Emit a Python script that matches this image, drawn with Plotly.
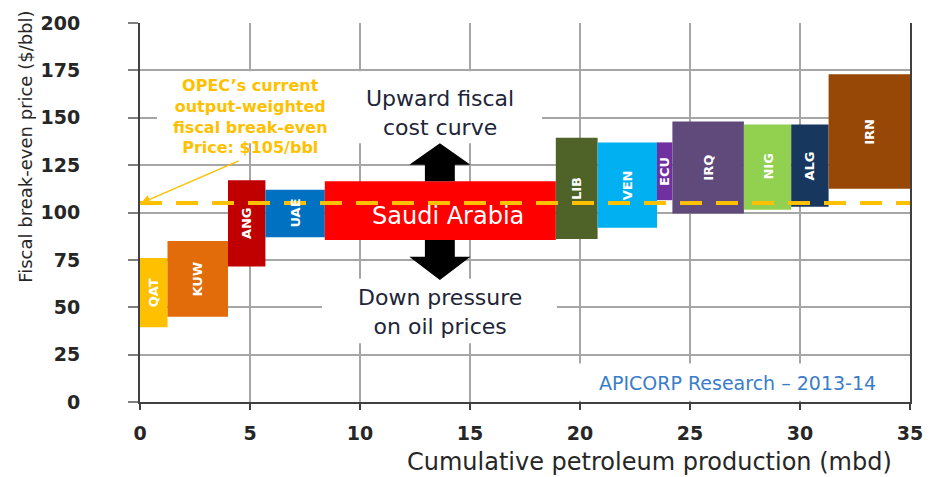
import plotly.graph_objects as go

# ---------------- data ----------------
countries = ["QAT", "KUW", "ANG", "UAE", "Saudi Arabia", "LIB", "VEN", "ECU", "IRQ", "NIG", "ALG", "IRN"]
production = [1.25, 2.75, 1.7, 2.7, 10.5, 1.9, 2.7, 0.7, 3.25, 2.15, 1.7, 3.7]   # mbd (bar widths)
price_low = [39.5, 45, 71.5, 87, 85.5, 86, 92, 106.5, 99.5, 101.5, 103, 112.5]   # $/bbl
price_high = [76, 85, 117, 112, 116.5, 139.5, 137, 137, 148, 146.5, 146.5, 173]  # $/bbl
colors = ["#FFC000", "#E26B0A", "#C00000", "#0070C0", "#FF0000", "#4F6228",
          "#00B0F0", "#7030A0", "#604A7B", "#92D050", "#17375E", "#974706"]
opec_breakeven = 105
x_ticks = [0, 5, 10, 15, 20, 25, 30, 35]
y_ticks = [0, 25, 50, 75, 100, 125, 150, 175, 200]

# derived positions
starts, ends = [], []
c = 0.0
for w in production:
    starts.append(c)
    c += w
    ends.append(c)
centers = [(s + e) / 2 for s, e in zip(starts, ends)]
heights = [h - l for l, h in zip(price_low, price_high)]
mids = [(l + h) / 2 for l, h in zip(price_low, price_high)]

FONT = "DejaVu Sans"
DARK = "#262626"

fig = go.Figure()

fig.add_trace(go.Bar(
    x=centers, y=heights, base=price_low, width=production,
    marker=dict(color=colors, line=dict(width=0)),
    hoverinfo="skip", showlegend=False,
))

fig.add_trace(go.Scatter(
    x=[0, 35], y=[opec_breakeven, opec_breakeven], mode="lines",
    line=dict(color="#FFC000", width=4, dash="22px,14px"),
    hoverinfo="skip", showlegend=False,
))

shapes = []
# white text backgrounds (hide gridlines)
for (x0, x1, y0, y1) in [(0.77, 18.27, 136.5, 174.5), (8.27, 18.95, 31.0, 65.0), (19.8, 34.8, 0.6, 20.3)]:
    shapes.append(dict(type="rect", xref="x", yref="y", x0=x0, x1=x1, y0=y0, y1=y1,
                       fillcolor="white", line=dict(width=0), layer="between"))

# black double arrow on Saudi box
sa = countries.index("Saudi Arabia")
ax = 13.63
sw, hw = 0.68, 1.39
top, bot = price_high[sa], price_low[sa]
up_path = (f"M{ax-sw},{top} L{ax-sw},125.2 L{ax-hw},125.2 L{ax},136.5 "
           f"L{ax+hw},125.2 L{ax+sw},125.2 L{ax+sw},{top} Z")
dn_path = (f"M{ax-sw},{bot} L{ax-sw},76.6 L{ax-hw},76.6 L{ax},64.4 "
           f"L{ax+hw},76.6 L{ax+sw},76.6 L{ax+sw},{bot} Z")
for p in (up_path, dn_path):
    shapes.append(dict(type="path", xref="x", yref="y", path=p,
                       fillcolor="black", line=dict(width=0), layer="above"))

annotations = []
for i, name in enumerate(countries):
    if name == "Saudi Arabia":
        annotations.append(dict(x=centers[i] + 0.35, y=mids[i] - 3, xref="x", yref="y",
                                text=name, showarrow=False,
                                font=dict(family=FONT, size=24, color="white")))
    else:
        annotations.append(dict(x=centers[i], y=mids[i], xref="x", yref="y",
                                text=name, showarrow=False, textangle=-90,
                                font=dict(family=FONT, size=13, color="white", weight="bold")))

annotations += [
    dict(x=5.0, y=150.5, xref="x", yref="y", showarrow=False,
         text="OPEC’s current<br>output-weighted<br>fiscal break-even<br>Price: $105/bbl",
         font=dict(family=FONT, size=16, color="#FFC000", weight="bold")),
    dict(x=0.05, y=opec_breakeven, ax=4.55, ay=127.6, xref="x", yref="y", axref="x", ayref="y",
         text="", showarrow=True, arrowhead=2, arrowsize=1.2, arrowwidth=1.5, arrowcolor="#FFC000"),
    dict(x=13.64, y=152.5, xref="x", yref="y", showarrow=False,
         text="Upward fiscal<br>cost curve",
         font=dict(family=FONT, size=22, color="#1e2538")),
    dict(x=13.64, y=47.5, xref="x", yref="y", showarrow=False,
         text="Down pressure<br>on oil prices",
         font=dict(family=FONT, size=22, color="#1e2538")),
    dict(x=27.16, y=9.9, xref="x", yref="y", showarrow=False,
         text="APICORP Research – 2013-14",
         font=dict(family=FONT, size=19, color="#3A7DCB")),
    dict(x=-0.149, y=0.674, xref="paper", yref="paper", showarrow=False, textangle=-90,
         xanchor="center", yanchor="middle",
         text="Fiscal break-even price ($/bbl)",
         font=dict(family=FONT, size=18, color=DARK)),
    dict(x=0.662, y=-0.157, xref="paper", yref="paper", showarrow=False,
         xanchor="center", yanchor="middle",
         text="Cumulative petroleum production (mbd)",
         font=dict(family=FONT, size=24, color=DARK)),
]

fig.update_layout(
    width=938, height=477,
    margin=dict(l=140, r=28, t=18, b=75),
    paper_bgcolor="white", plot_bgcolor="white",
    barmode="overlay",
    shapes=shapes, annotations=annotations,
    xaxis=dict(range=[0, 35], tickvals=x_ticks, ticktext=[str(v) for v in x_ticks],
               showgrid=True, gridcolor="#A6A6A6", gridwidth=1.5,
               showline=True, linecolor="#404040", linewidth=2,
               ticks="outside", ticklen=6, tickcolor="#404040", tickwidth=1.5,
               ticklabelstandoff=7,
               tickfont=dict(family=FONT, size=19, color=DARK, weight="bold"),
               zeroline=False, fixedrange=True),
    yaxis=dict(range=[0, 200], tickvals=y_ticks, ticktext=[str(v) for v in y_ticks],
               showgrid=True, gridcolor="#A6A6A6", gridwidth=1.5,
               showline=True, linecolor="#404040", linewidth=2, mirror=True,
               ticks="outside", ticklen=10, tickcolor="#7f7f7f", tickwidth=1.5,
               ticklabelstandoff=44,
               tickfont=dict(family=FONT, size=19, color=DARK, weight="bold"),
               zeroline=False, fixedrange=True),
)

fig.write_html("out.html", config={"displayModeBar": False},
               post_script="document.body.style.margin='0';")
